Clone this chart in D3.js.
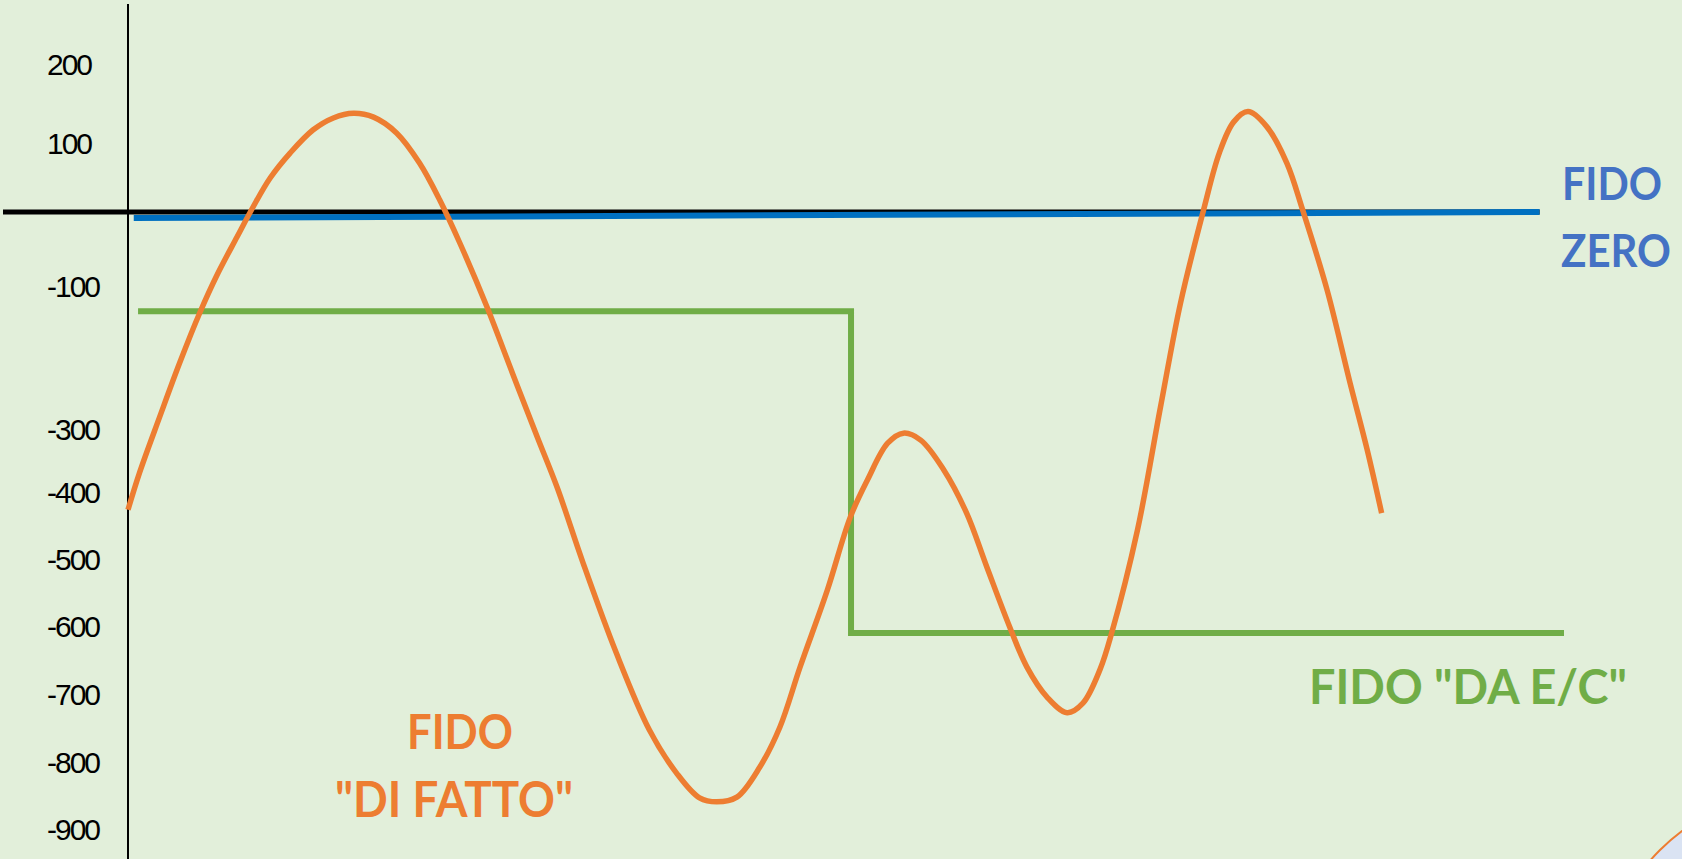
<!DOCTYPE html>
<html>
<head>
<meta charset="utf-8">
<script src="https://cdn.jsdelivr.net/npm/d3@7"></script>
<style>
  body { margin: 0; background: #e2efda; overflow: hidden; }
  .tick text { font-family: "Liberation Sans", Arial, sans-serif; }
  .etichetta { font-family: Lato, "Open Sans", sans-serif; font-weight: bold; }
</style>
</head>
<body>
<script>
// dati (asse x = tempo 0..100, asse y = saldo)
let tickLabels = [200, 100, -100, -300, -400, -500, -600, -700, -800, -900]

// fido "di fatto" : andamento del saldo
let tempo = [0, 0.8, 2.2, 3.6, 5.0, 6.2, 7.6, 8.7, 9.9, 11.3, 12.9, 14.3, 15.7, 17.1, 18.7, 20.3,
  21.7, 23.1, 25.0, 26.8, 28.5, 29.9, 31.7, 34.0, 36.3, 38.2, 39.8, 41.0, 42.4, 44.0, 45.4, 46.8,
  48.7, 50.3, 51.5, 52.9, 54.0, 55.2, 56.8, 58.4, 59.8, 61.4, 62.6, 64.0, 65.4, 66.5, 67.7, 68.5,
  70.3, 71.9, 73.3, 74.9, 76.0, 77.0, 78.0, 79.3, 80.7, 81.8, 83.5, 85.1, 86.3, 87.3]
let saldo = [-425, -368, -282, -206, -136, -84, -33, 7, 50, 87, 118, 133, 139, 134, 114, 72,
  18, -41, -128, -222, -311, -392, -505, -638, -751, -815, -852, -858, -851, -806, -747, -659,
  -545, -436, -379, -321, -305, -316, -363, -430, -510, -600, -659, -703, -726, -712, -662, -609,
  -455, -268, -122, 3, 87, 128, 141, 122, 72, 3, -104, -234, -332, -430]

// fido "da E/C" : due livelli
let tempoFidoEC = [0.7, 50.35, 100]
let valoreFidoEC = [-134, -609, -609]

// fido zero
let tempoFidoZero = [0.4, 98.3]
let valoreFidoZero = [-8, 0]

let width = 1682, height = 859

let svg = d3.select("body").append("svg")
  .attr("width", width)
  .attr("height", height)

svg.append("rect").attr("width", width).attr("height", height).attr("fill", "#e2efda")

// forma decorativa in basso a destra
svg.append("circle")
  .attr("cx", 1800).attr("cy", 990).attr("r", 198)
  .attr("fill", "#dae3f3").attr("stroke", "#ed7d31").attr("stroke-width", 2)

let x = d3.scaleLinear().domain([0, 100]).range([128, 1564])

// scala a tratti: le etichette dell'originale non sono equidistanti
let y = d3.scaleLinear()
  .domain([200, 100, 0, -100, -300, -400, -500, -600, -700, -800, -900])
  .range([65, 144, 212, 287, 430, 493, 560, 627, 695, 763, 830])

// etichette asse y
let yAxis = svg.append("g")
  .attr("transform", "translate(47,0)")
  .call(d3.axisLeft(y).tickValues(tickLabels).tickSize(0).tickFormat(d => d))
yAxis.select(".domain").remove()
yAxis.selectAll("text")
  .attr("x", 0)
  .attr("text-anchor", "start")
  .attr("font-size", 30)
  .attr("letter-spacing", -2)
  .attr("fill", "#000")

// asse verticale
svg.append("line")
  .attr("x1", x(0)).attr("x2", x(0))
  .attr("y1", 4).attr("y2", height)
  .attr("stroke", "#000").attr("stroke-width", 2)

// linea dello zero
svg.append("line")
  .attr("x1", 3).attr("x2", x(98.3))
  .attr("y1", y(0)).attr("y2", y(0))
  .attr("stroke", "#000").attr("stroke-width", 5)

// fido zero (blu)
let puntiZero = tempoFidoZero.map((t, i) => [t, valoreFidoZero[i]])
svg.append("path")
  .datum(puntiZero)
  .attr("d", d3.line().x(d => x(d[0])).y(d => y(d[1])))
  .attr("fill", "none")
  .attr("stroke", "#0070c0")
  .attr("stroke-width", 6)

// fido da E/C (verde, a gradino)
let puntiEC = tempoFidoEC.map((t, i) => [t, valoreFidoEC[i]])
svg.append("path")
  .datum(puntiEC)
  .attr("d", d3.line().curve(d3.curveStepAfter).x(d => x(d[0])).y(d => y(d[1])))
  .attr("fill", "none")
  .attr("stroke", "#70ad47")
  .attr("stroke-width", 6)

// fido di fatto (arancione)
let puntiSaldo = tempo.map((t, i) => [t, saldo[i]])
svg.append("path")
  .datum(puntiSaldo)
  .attr("d", d3.line().curve(d3.curveCatmullRom.alpha(0.5)).x(d => x(d[0])).y(d => y(d[1])))
  .attr("fill", "none")
  .attr("stroke", "#ed7d31")
  .attr("stroke-width", 5.5)
  .attr("stroke-linejoin", "round")

// testi
function etichetta(testo, px, py, lunghezza, colore, size) {
  svg.append("text")
    .attr("class", "etichetta")
    .attr("x", px).attr("y", py)
    .attr("font-size", size)
    .attr("fill", colore)
    .attr("textLength", lunghezza)
    .attr("lengthAdjust", "spacingAndGlyphs")
    .text(testo)
}

etichetta("FIDO", 1562, 200, 100, "#4472c4", 46)
etichetta("ZERO", 1561, 267, 110, "#4472c4", 46)
etichetta("FIDO \"DA E/C\"", 1309, 704, 318, "#70ad47", 48)
etichetta("FIDO", 407, 749, 106, "#ed7d31", 48)
etichetta("\"DI FATTO\"", 335, 817, 238, "#ed7d31", 50)
</script>
</body>
</html>
